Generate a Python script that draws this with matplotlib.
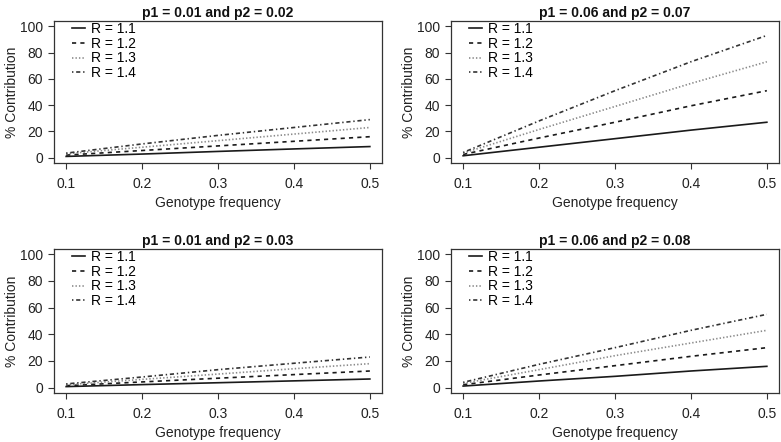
import matplotlib
matplotlib.use("Agg")
import matplotlib.pyplot as plt
import numpy as np

plt.rcParams['font.family'] = ['Liberation Sans', 'DejaVu Sans']
plt.rcParams['lines.scale_dashes'] = False

# genotype frequency grid
freq = [0.1, 0.2, 0.3, 0.4, 0.5]
r_labels = ['R = 1.1', 'R = 1.2', 'R = 1.3', 'R = 1.4']

titles = ['p1 = 0.01 and p2 = 0.02', 'p1 = 0.06 and p2 = 0.07',
          'p1 = 0.01 and p2 = 0.03', 'p1 = 0.06 and p2 = 0.08']

# % contribution, one list per R
contrib_a = [[1.0, 2.8, 4.8, 6.7, 8.5],
             [2.0, 5.5, 9.0, 12.5, 16.0],
             [3.0, 8.0, 13.0, 18.0, 23.0],
             [3.5, 10.5, 17.0, 23.0, 29.0]]
contrib_b = [[1.5, 8.0, 14.5, 21.0, 27.0],
             [2.5, 15.0, 27.0, 39.5, 51.0],
             [3.5, 21.5, 39.0, 56.5, 73.0],
             [4.0, 28.0, 51.0, 73.0, 93.0]]
contrib_c = [[0.8, 2.3, 3.7, 5.1, 6.5],
             [1.5, 4.3, 7.1, 9.8, 12.5],
             [2.2, 6.2, 10.2, 14.2, 18.0],
             [2.8, 8.0, 13.5, 18.3, 23.0]]
contrib_d = [[1.2, 5.0, 8.5, 12.5, 16.0],
             [2.2, 9.5, 16.5, 23.5, 30.0],
             [3.2, 13.5, 24.0, 33.5, 43.0],
             [4.0, 17.5, 30.0, 43.0, 55.0]]
panels = [contrib_a, contrib_b, contrib_c, contrib_d]

# line styles similar to R lty 1..4
styles = [dict(color='#1a1a1a', linestyle='-'),
          dict(color='#1a1a1a', linestyle=(0, (3, 3))),
          dict(color='#8a8a8a', linestyle=(0, (1, 1.5))),
          dict(color='#333333', linestyle=(0, (1, 2, 3, 2)))]

W, H = 781, 442
fig = plt.figure(figsize=(W / 100, H / 100), dpi=100)

# axes boxes in pixels: left, top, right, bottom
boxes = [(54, 21, 382, 163), (451, 21, 779, 163),
         (54, 249, 382, 393), (451, 249, 779, 393)]

fs = 10
for box, title, data in zip(boxes, titles, panels):
    l, t, r, b = box
    ax = fig.add_axes([l / W, 1 - b / H, (r - l) / W, (b - t) / H])
    for vals, lab, st in zip(data, r_labels, styles):
        ax.plot(freq, vals, lw=1.2, label=lab, **st)
    ax.set_xlim(0.084, 0.516)
    ax.set_ylim(-4, 104)
    ax.set_xticks([0.1, 0.2, 0.3, 0.4, 0.5])
    ax.set_yticks([0, 20, 40, 60, 80, 100])
    ax.tick_params(direction='out', length=4, width=0.8, labelsize=fs,
                   color='#333333', labelcolor='#222222')
    ax.tick_params(axis='y', pad=4)
    ax.tick_params(axis='x', pad=6)
    for sp in ax.spines.values():
        sp.set_color('#333333')
        sp.set_linewidth(0.9)
    ax.set_title(title, fontsize=fs, fontweight='bold', pad=3, color='#111111')
    ax.set_xlabel('Genotype frequency', fontsize=fs, labelpad=3.5, color='#222222')
    ax.set_ylabel('% Contribution', fontsize=fs, labelpad=0.5, color='#222222')
    ax.legend(loc='upper left', bbox_to_anchor=(18 / (r - l), 1 - 1 / (b - t)),
              frameon=False, fontsize=fs, handlelength=0.95, handletextpad=0.45,
              labelspacing=0.05, borderpad=0, borderaxespad=0)

fig.savefig('out.png', dpi=100)
